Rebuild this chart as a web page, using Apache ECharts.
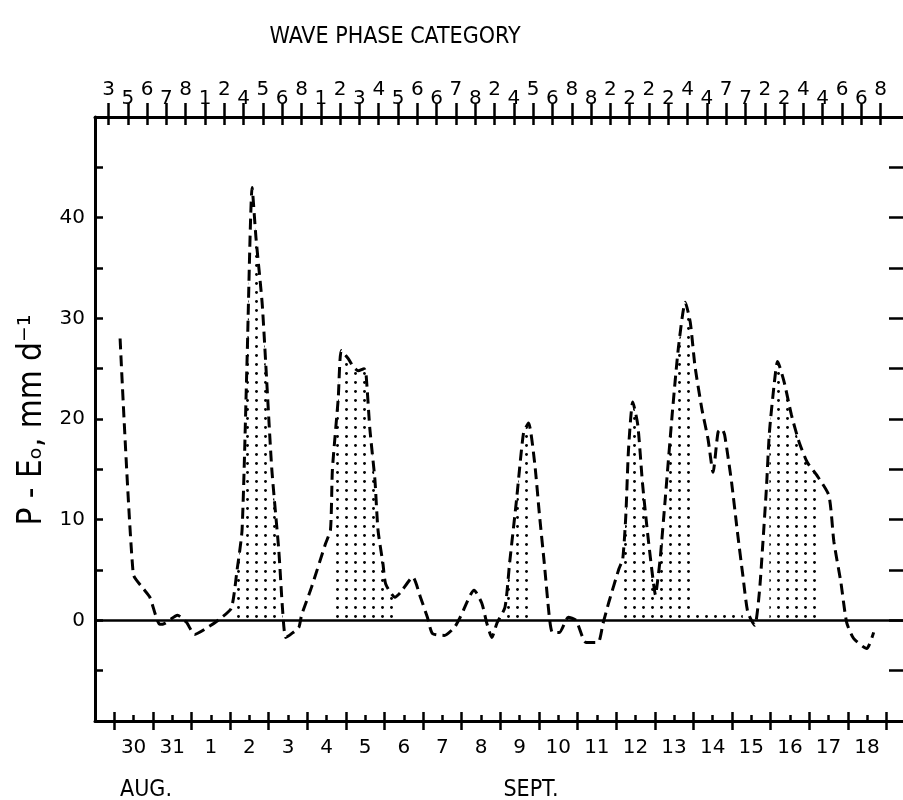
<!DOCTYPE html>
<html><head><meta charset="utf-8">
<script src="https://cdn.jsdelivr.net/npm/echarts@6/dist/echarts.min.js"></script>
<style>html,body{margin:0;padding:0;background:#fff;overflow:hidden}#c{width:903px;height:800px}</style>
</head><body><div id="c"></div>
<script>
// time in days since 30 Aug 00Z
const dayTime = [0.15,0.49,0.74,0.92,1.18,1.31,1.64,1.87,2.08,2.46,2.72,3.03,3.18,3.31,3.44,3.57,3.67,3.83,3.93,4.08,4.26,4.36,4.44,4.60,4.78,4.85,5.11,5.47,5.60,5.65,5.80,5.88,6.06,6.19,6.32,6.47,6.52,6.62,6.75,6.83,6.96,7.03,7.27,7.42,7.73,7.93,8.11,8.24,8.55,8.81,8.96,9.32,9.52,9.65,9.78,9.91,10.12,10.24,10.42,10.60,10.73,10.89,11.01,11.14,11.27,11.35,11.53,11.76,11.96,12.22,12.53,12.66,12.81,13.07,13.17,13.25,13.32,13.43,13.56,13.68,13.81,13.94,14.02,14.07,14.14,14.27,14.45,14.61,14.79,14.92,15.04,15.22,15.38,15.51,15.64,15.74,15.81,15.99,16.14,16.28,16.41,16.59,16.71,16.79,16.89,16.97,17.10,17.18,17.35,17.54,17.74,17.95,18.20,18.51,18.64,18.82,18.97,19.15,19.49,19.67];
const peValue = [28,4.6,3.2,2.3,-0.4,-0.3,0.5,-0.2,-1.4,-0.6,0.1,1.2,5,9,26,43,38,31.5,25,15,7,1,-1.7,-1.3,-0.7,0.5,3.3,7.6,9,15,22,26.8,26,25.2,24.8,25,24.5,19,14,9,5.6,3.6,2.3,2.8,4.3,2.3,0.3,-1.3,-1.5,-0.7,0.3,3,1.7,-0.3,-1.7,-0.3,1.3,5.7,12,18.6,19.6,15.6,10.6,5.6,0.3,-1.2,-1.2,0.3,0,-2.2,-2.2,-0.3,1.8,5.1,6.1,10.4,17,21.7,19.4,13.7,8.8,4.5,2.5,3.8,6.1,12,20.4,27,31.6,29.6,25.3,21,18,14.7,18.7,19,18.4,13.7,8.8,4.5,0.8,-0.5,2.8,7.1,13,18.7,23.7,25.7,23.7,20.4,17.7,15.7,14.4,12.4,7.8,3.8,-0.2,-1.8,-2.8,-1.2];
const dayLabels = ['30','31','1','2','3','4','5','6','7','8','9','10','11','12','13','14','15','16','17','18'];
const waveCategories = [3,5,6,7,8,1,2,4,5,6,8,1,2,3,4,5,6,6,7,8,2,4,5,6,8,8,2,2,2,2,4,4,7,7,2,2,4,4,6,6,8];
const waveStart = -0.15, waveStep = 0.5;
const yTickLabels = [0,10,20,30,40];
const shadeSpans = [[3.03,4.36],[5.60,7.27],[10.12,10.73],[13.17,15.04],[16.97,18.20]];
const stripSpan = [15.04,16.28];
const stripLevel = 0.6;
const monthLabels = ['AUG.','SEPT.'];

const FONT = 'DejaVu Sans';
const FONT_C = 'DejaVu Sans Condensed';
const xMin = -0.5, xMax = 20.43;
const pts = dayTime.map((t,i)=>[t,peValue[i]]);
const dayBounds = dayLabels.map((_,i)=>i).concat([dayLabels.length]);
const dayMids = dayLabels.map((_,i)=>i+0.5);
const waveTimes = waveCategories.map((_,i)=>+(waveStart+waveStep*i).toFixed(3));
const waveIdx = v => Math.round((v-waveStart)/waveStep);

const pc = document.createElement('canvas'); pc.width=9; pc.height=9;
const g = pc.getContext('2d'); g.fillStyle='#000'; g.beginPath(); g.arc(4.5,4.5,1.45,0,Math.PI*2); g.fill();
const pattern = {image: pc, repeat: 'repeat'};

const baseX = {type:'value', min:xMin, max:xMax, splitLine:{show:false}};
const tickStyle = {color:'#000', width:2.5};
const chart = echarts.init(document.getElementById('c'), null, {renderer:'canvas'});
const smooth = 0.2;
chart.setOption({
  animation:false,
  backgroundColor:'#fff',
  grid:{left:95, top:117, width:815, height:604, containLabel:false},
  xAxis:[
    Object.assign({}, baseX, {position:'bottom', axisLine:{onZero:false, lineStyle:{color:'#000', width:3}},
      axisTick:{inside:true, length:6, customValues:dayMids, lineStyle:tickStyle},
      axisLabel:{customValues:dayMids, formatter:v=>dayLabels[Math.round(v-0.5)]||'', margin:17, fontSize:20, color:'#000', fontFamily:FONT}}),
    Object.assign({}, baseX, {position:'bottom', axisLine:{show:false, onZero:false},
      axisTick:{inside:true, length:9, customValues:dayBounds, lineStyle:tickStyle}, axisLabel:{show:false}}),
    Object.assign({}, baseX, {position:'bottom', axisLine:{show:false, onZero:false},
      axisTick:{inside:false, length:9, customValues:dayBounds, lineStyle:tickStyle}, axisLabel:{show:false}}),
    Object.assign({}, baseX, {position:'top', axisLine:{onZero:false, lineStyle:{color:'#000', width:3}},
      axisTick:{inside:true, length:8, customValues:waveTimes, lineStyle:tickStyle}, axisLabel:{show:false}}),
    Object.assign({}, baseX, {position:'top', axisLine:{show:false, onZero:false},
      axisTick:{inside:false, length:14, customValues:waveTimes, lineStyle:tickStyle},
      axisLabel:{customValues:waveTimes.filter((_,i)=>i%2===1), formatter:v=>String(waveCategories[waveIdx(v)]), margin:8, fontSize:20, color:'#000', fontFamily:FONT}}),
    Object.assign({}, baseX, {position:'top', axisLine:{show:false, onZero:false},
      axisTick:{show:false},
      axisLabel:{customValues:waveTimes.filter((_,i)=>i%2===0), formatter:v=>String(waveCategories[waveIdx(v)]), margin:17, fontSize:20, color:'#000', fontFamily:FONT}})
  ],
  yAxis:[
    {type:'value', position:'left', min:-10, max:50, interval:5, splitLine:{show:false},
      axisLine:{onZero:false, lineStyle:{color:'#000', width:3}},
      axisTick:{inside:true, length:8, lineStyle:tickStyle},
      axisLabel:{formatter:v=>yTickLabels.indexOf(v)>=0?String(v):'', margin:10, fontSize:20, color:'#000', fontFamily:FONT}},
    {type:'value', position:'right', min:-10, max:50, interval:5, splitLine:{show:false},
      axisLine:{show:false, onZero:false},
      axisTick:{inside:true, length:14, lineStyle:tickStyle}, axisLabel:{show:false}}
  ],
  series: shadeSpans.map(([a,b])=>({
      type:'line', silent:true, symbol:'none', smooth:smooth, z:1,
      data: pts.filter(p=>p[0]>=a-1e-9 && p[0]<=b+1e-9),
      lineStyle:{width:0}, areaStyle:{color:pattern, opacity:1}
    })).concat([
    {type:'line', silent:true, symbol:'none', z:1,
      data:[[stripSpan[0],stripLevel],[stripSpan[1],stripLevel]],
      lineStyle:{width:0}, areaStyle:{color:pattern, opacity:1}},
    {type:'line', silent:true, symbol:'none', smooth:smooth, z:3, data:pts,
      lineStyle:{color:'#000', width:3, type:[11,6]},
      markLine:{silent:true, symbol:'none', label:{show:false}, lineStyle:{color:'#000', width:2.5, type:'solid'}, data:[{yAxis:0}]}}
  ]),
  graphic:[
    {type:'text', x:395, y:37, style:{text:'WAVE PHASE CATEGORY', fontSize:23, fontFamily:FONT_C, fill:'#000', align:'center', verticalAlign:'middle', textAlign:'center', textVerticalAlign:'middle'}},
    {type:'text', x:32, y:420, rotation:Math.PI/2, style:{text:'P - Eₒ, mm d⁻¹', fontSize:33, fontFamily:FONT_C, fill:'#000', align:'center', verticalAlign:'middle', textAlign:'center', textVerticalAlign:'middle'}},
    {type:'text', x:146, y:790, style:{text:monthLabels[0], fontSize:23, fontFamily:FONT_C, fill:'#000', align:'center', verticalAlign:'middle', textAlign:'center', textVerticalAlign:'middle'}},
    {type:'text', x:531, y:790, style:{text:monthLabels[1], fontSize:23, fontFamily:FONT_C, fill:'#000', align:'center', verticalAlign:'middle', textAlign:'center', textVerticalAlign:'middle'}}
  ]
});
</script></body></html>
